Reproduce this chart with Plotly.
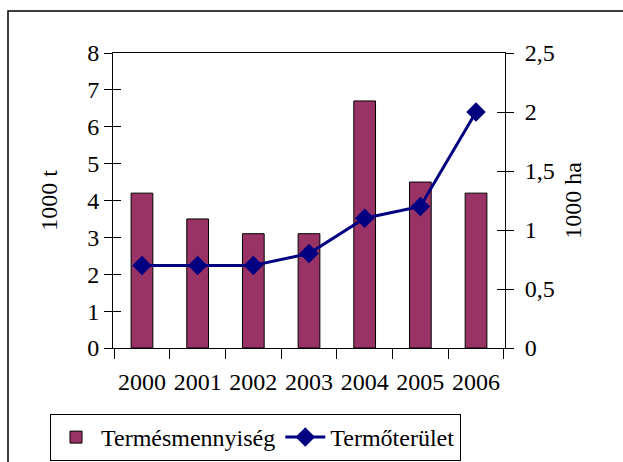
import plotly.graph_objects as go

years = ["2000", "2001", "2002", "2003", "2004", "2005", "2006"]
termesmennyiseg = [4.2, 3.5, 3.1, 3.1, 6.7, 4.5, 4.2]   # 1000 t
termoterulet = [0.7, 0.7, 0.7, 0.8, 1.1, 1.2, 2.0]      # 1000 ha

FONT = "Liberation Serif, Times New Roman, serif"

fig = go.Figure()
fig.add_trace(go.Bar(
    x=years, y=termesmennyiseg, name="Termésmennyiség",
    marker=dict(color="#993366", line=dict(color="black", width=1)),
    yaxis="y",
))
fig.add_trace(go.Scatter(
    x=years, y=termoterulet, name="Termőterület", mode="lines+markers",
    line=dict(color="#000080", width=3),
    marker=dict(symbol="diamond", size=15, color="#000080"),
    yaxis="y2",
))

# body margin is removed by post_script, so the figure fills the window
W, H = 623, 462
L, T = 113, 53
R = W - 505
B = H - 348
pw, ph = W - L - R, H - T - B


def px_to_paper_x(px):
    return (px - L) / pw


def px_to_paper_y(py):
    return (T + ph - py) / ph


fig.update_layout(
    width=W, height=H,
    margin=dict(l=L, r=R, t=T, b=B, autoexpand=False),
    paper_bgcolor="white", plot_bgcolor="white",
    font=dict(family=FONT, size=24, color="black"),
    separators=", ",
    bargap=0.61,
    showlegend=True,
    legend=dict(
        orientation="h", x=px_to_paper_x(50), xanchor="left",
        y=px_to_paper_y(414), yanchor="top",
        bordercolor="black", borderwidth=1, bgcolor="white",
        font=dict(size=24), itemwidth=40,
    ),
    xaxis=dict(
        type="category", showline=True, linecolor="black", linewidth=1,
        mirror=True, ticks="outside", ticklen=10, tickcolor="black",
        tickson="boundaries", showgrid=False, ticklabelstandoff=12,
        tickangle=0, automargin=False,
    ),
    yaxis=dict(
        range=[0, 8], dtick=1, showline=True, linecolor="black", linewidth=1,
        ticks="outside", ticklen=8, tickcolor="black", showgrid=False,
        zeroline=False, ticklabelstandoff=0, automargin=False,
        title=dict(text="1000 t", standoff=22, font=dict(size=24)),
    ),
    yaxis2=dict(
        range=[0, 2.5], dtick=0.5, overlaying="y", side="right",
        showline=True, linecolor="black", linewidth=1,
        ticks="outside", ticklen=8, tickcolor="black", showgrid=False,
        zeroline=False, ticklabelstandoff=6, automargin=False,
        title=dict(text="1000 ha", standoff=10, font=dict(size=24)),
    ),
    yaxis3=dict(
        range=[0, 8], dtick=1, overlaying="y", side="left",
        ticks="inside", ticklen=8, tickcolor="black", showticklabels=False,
        showline=False, showgrid=False, zeroline=False, automargin=False,
    ),
    yaxis4=dict(
        range=[0, 2.5], dtick=0.5, overlaying="y", side="right",
        ticks="inside", ticklen=8, tickcolor="black", showticklabels=False,
        showline=False, showgrid=False, zeroline=False, automargin=False,
    ),
)

# invisible helper traces so the inner-tick axes are drawn
fig.add_trace(go.Scatter(x=years, y=termesmennyiseg, yaxis="y3", mode="none",
                         showlegend=False, hoverinfo="skip"))
fig.add_trace(go.Scatter(x=years, y=termoterulet, yaxis="y4", mode="none",
                         showlegend=False, hoverinfo="skip"))

# outer chart border
fig.add_shape(type="rect", xref="paper", yref="paper",
              x0=px_to_paper_x(8), x1=px_to_paper_x(700),
              y0=px_to_paper_y(600), y1=px_to_paper_y(11),
              line=dict(color="black", width=1.5), fillcolor="rgba(0,0,0,0)",
              layer="below")

fig.write_html(
    "out.html",
    config={"displayModeBar": False},
    post_script="document.body.style.margin='0px';document.body.style.overflow='hidden';",
)
